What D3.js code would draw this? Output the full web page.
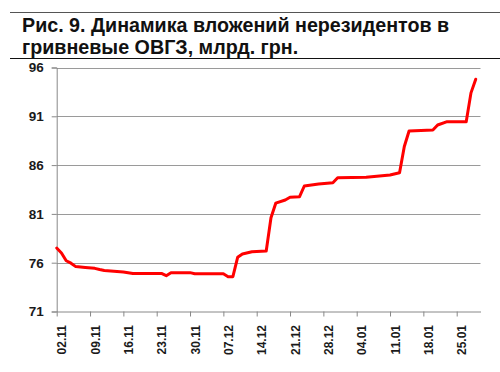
<!DOCTYPE html>
<html>
<head>
<meta charset="utf-8">
<script src="https://cdn.jsdelivr.net/npm/d3@7"></script>
<style>
  html, body { margin: 0; padding: 0; background: #fff; }
  svg { display: block; font-family: Arial, "Liberation Sans", sans-serif; }
</style>
</head>
<body>
<svg id="chart" width="500" height="372"></svg>
<script>
const titleLines = ["Рис. 9. Динамика вложений нерезидентов в", "гривневые ОВГЗ, млрд. грн."];
const startDate = "2015-11-02";
const endDate = "2016-01-30";
// day offsets from 02.11 and values (bn UAH)
const dayOffsets = [0, 1, 2, 3, 4, 6, 8, 9, 10, 14, 16, 22, 23, 24, 28, 29, 35, 36, 37, 38, 39, 41, 44, 45, 46, 48, 49, 51, 52, 55, 58, 59, 65, 70, 72, 73, 74, 79, 80, 82, 86, 87, 88];
const values =     [77.5, 77.0, 76.2, 75.95, 75.6, 75.5, 75.42, 75.3, 75.2, 75.05, 74.9, 74.9, 74.67, 74.98, 74.98, 74.87, 74.87, 74.57, 74.57, 76.55, 76.9, 77.13, 77.2, 80.6, 82.1, 82.42, 82.7, 82.76, 83.86, 84.06, 84.2, 84.71, 84.75, 84.99, 85.22, 87.9, 89.49, 89.6, 90.11, 90.45, 90.45, 93.4, 94.8];
const yTicks = [71, 76, 81, 86, 91, 96];
const xTickLabels = ["02.11", "09.11", "16.11", "23.11", "30.11", "07.12", "14.12", "21.12", "28.12", "04.01", "11.01", "18.01", "25.01"];

(function () {
const svg = d3.select("#chart");
const parse = d3.utcParse("%Y-%m-%d");
const t0 = parse(startDate);
const dayMs = 864e5;
const data = dayOffsets.map((d, i) => ({ date: new Date(t0.getTime() + d * dayMs), value: values[i] }));
const tickDates = xTickLabels.map((_, i) => new Date(t0.getTime() + i * 7 * dayMs));

const pL = 56.7, pR = 480.5, pT = 67.5, pB = 311.5;
const x = d3.scaleUtc().domain([t0, parse(endDate)]).range([pL, pR]);
const y = d3.scaleLinear().domain([71, 96]).range([pB, pT]);

// title rules
svg.append("line").attr("x1", 10).attr("x2", 500).attr("y1", 12.5).attr("y2", 12.5)
  .attr("stroke", "#555").attr("stroke-width", 1);
svg.append("line").attr("x1", 10).attr("x2", 500).attr("y1", 58.5).attr("y2", 58.5)
  .attr("stroke", "#111").attr("stroke-width", 1);
svg.selectAll("text.title").data(titleLines).enter().append("text")
  .attr("class", "title")
  .attr("x", 22).attr("y", (d, i) => 32 + i * 22)
  .attr("font-size", 19.7).attr("font-weight", "bold").attr("fill", "#111")
  .text(d => d);

// gridlines
svg.append("g").selectAll("line").data(yTicks.filter(v => v !== 71)).enter().append("line")
  .attr("x1", pL).attr("x2", pR)
  .attr("y1", d => Math.round(y(d)) + 0.5).attr("y2", d => Math.round(y(d)) + 0.5)
  .attr("stroke", "#9a9a9a").attr("stroke-width", 1);

// y axis
const yAxis = svg.append("g").attr("transform", `translate(${pL},0)`)
  .call(d3.axisLeft(y).tickValues(yTicks).tickSize(5).tickPadding(8).tickFormat(d3.format("d")));
yAxis.select(".domain").attr("stroke", "#888");
yAxis.selectAll(".tick line").attr("stroke", "#888");
yAxis.selectAll("text").attr("font-size", 13.5).attr("font-weight", "bold").attr("fill", "#1a1a1a")
  .attr("font-family", "Arial, 'Liberation Sans', sans-serif");

// x axis
const xAxis = svg.append("g").attr("transform", `translate(0,${pB})`)
  .call(d3.axisBottom(x).tickValues(tickDates).tickSize(5).tickSizeOuter(0)
    .tickFormat((d, i) => xTickLabels[i]));
xAxis.select(".domain").attr("stroke", "#888");
xAxis.selectAll(".tick line").attr("stroke", "#888");
xAxis.selectAll("text")
  .attr("font-size", 12).attr("font-weight", "bold").attr("fill", "#1a1a1a")
  .attr("font-family", "Arial, 'Liberation Sans', sans-serif")
  .attr("text-anchor", "end")
  .attr("transform", "rotate(-90)")
  .attr("x", -13.5).attr("y", 0).attr("dy", "0.75em");

// line
const line = d3.line().x(d => x(d.date)).y(d => y(d.value));
svg.append("path").datum(data).attr("d", line)
  .attr("fill", "none").attr("stroke", "#ff0000").attr("stroke-width", 3)
  .attr("stroke-linejoin", "round").attr("stroke-linecap", "round");
})();
</script>
</body>
</html>
